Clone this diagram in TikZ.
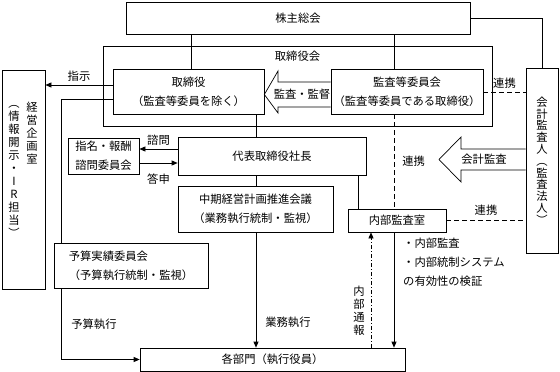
\documentclass[tikz,border=0pt]{standalone}
\usepackage{fontspec}
\setmainfont{Noto Sans CJK JP}
\usetikzlibrary{positioning,arrows.meta}

\begin{document}
\begin{tikzpicture}[x=1pt, y=-1pt,
  every node/.style={font=\fontsize{11.3}{13}\selectfont},
  box/.style={draw, line width=0.7pt, inner sep=0pt, align=center, font=\fontsize{11.3}{19}\selectfont},
  wire/.style={line width=0.7pt},
  arr/.style={-{Triangle[length=6pt,width=5pt]}, line width=0.7pt},
  lnk/.style={line width=0.7pt, dash pattern=on 5pt off 3pt},
  tsuho/.style={dash pattern=on 4pt off 2pt on 1pt off 2pt},
  lab/.style={inner sep=1pt},
  tate/.style={inner sep=0pt, align=center, font=\fontsize{11.3}{13}\selectfont}]

\useasboundingbox (0,0) rectangle (560,372);

% boxes
\node[box, minimum width=344, minimum height=32] (kabu) at (298,18) {株主総会};
\node[box, minimum width=389, minimum height=80] (board) at (297.5,86) {};
\node[lab, below=4pt of board.north] (boardlab) {取締役会};
\node[box, minimum width=151, minimum height=45] (tori) at (188.5,91.5) {取締役\\（監査等委員を除く）};
\node[box, minimum width=152, minimum height=45] (kansa) at (407,91.5) {監査等委員会\\（監査等委員である取締役）};
\node[box, tate, font=\fontsize{11.3}{11.8}\selectfont, minimum width=32, minimum height=185] (kaikei) at (542,160.5)
  {会\\計\\監\\査\\人\\︵\\監\\査\\法\\人\\︶};
\node[box, minimum width=43, minimum height=219] (keiei) at (23.5,179.5) {};
\node[tate, anchor=north] (keieilab) at (32,102) {経\\営\\企\\画\\室};
\node[tate, anchor=north] (keieisub) at (14,105) {︵\\情\\報\\開\\示\\・\\I\\R\\担\\当\\︶};
\node[box, minimum width=71, minimum height=36] (shimei) at (103.5,156) {指名・報酬\\諮問委員会};
\node[box, minimum width=188, minimum height=38] (daihyo) at (272,156) {代表取締役社長};
\node[box, minimum width=155, minimum height=46] (chuki) at (255.5,209) {中期経営計画推進会議\\（業務執行統制・監視）};
\node[box, minimum width=98, minimum height=23] (naibu) at (397,220.5) {内部監査室};
\node[box, minimum width=154, minimum height=45, align=left] (yosan) at (131,265.5) {予算実績委員会\\（予算執行統制・監視）};
\node[box, minimum width=265, minimum height=23] (kakubu) at (272.5,359.5) {各部門（執行役員）};
\node[lab, align=left, anchor=north west, font=\fontsize{11.3}{19}\selectfont] (note) at (402,237)
  {・内部監査\\・内部統制システム\\の有効性の検証};

% connectors
\draw[wire] (kabu.east) -| (kaikei.north);
\draw[wire] (tori.north -| 191,0) -- (kabu.south -| 191,0);
\draw[wire] (kansa.north -| 394,0) -- (kabu.south -| 394,0);
\draw[arr] (tori.west |- 0,85) -- node[lab, above=2pt] (shiji) {指示} (keiei.east |- 0,85);
\draw[wire] (tori.west |- 0,99) -| (yosan.north -| 61,0);
\draw[arr] (yosan.south -| 61,0) |- node[lab, pos=0.25, right=9pt] (shikko) {予算執行} (kakubu.west);
\draw[arr] (daihyo.west |- 0,149) -- node[lab, above=2pt] (shimon) {諮問} (shimei.east |- 0,149);
\draw[arr] (shimei.east |- 0,163) -- node[lab, below=9pt] (toshin) {答申} (daihyo.west |- 0,163);
\draw[wire] (tori.south -| 256,0) -- (daihyo.north -| 256,0);
\draw[wire] (daihyo.south -| 256,0) -- (chuki.north -| 256,0);
\draw[arr] (chuki.south -| 256,0) -- node[lab, pos=0.78, right=8pt] (gyomu) {業務執行} (kakubu.north -| 256,0);
\draw[wire] (daihyo.south -| 358,0) -- (naibu.north -| 358,0);
\draw[lnk] (kansa.south -| 394,0) -- node[lab, right=7pt] (renkei1) {連携} (naibu.north -| 394,0);
\draw[arr] (naibu.south -| 394,0) -- (kakubu.north -| 394,0);
\draw[arr, tsuho] (kakubu.north -| 371,0) -- node[tate, pos=0.32, left=6pt] (tsuhou) {内\\部\\通\\報} (naibu.south -| 371,0);
\draw[lnk] (kansa.east |- 0,92) -- node[lab, above=2pt] (renkei2) {連携} (kaikei.west |- 0,92);
\draw[lnk] (naibu.east |- 0,220) -- node[lab, above=3pt] (renkei3) {連携} (kaikei.west |- 0,220);

% block arrows
\draw[wire] (kansa.west |- 0,82) -- (278,82) -- (278,71) -- (tori.east |- 0,94.5)
  -- (278,113) -- (278,107) -- (kansa.west |- 0,107);
\node[lab] (kansalab) at (302,94.5) {監査・監督};
\draw[wire] (kaikei.west |- 0,149) -- (461,149) -- (461,137) -- (439,159.5)
  -- (461,182) -- (461,170) -- (kaikei.west |- 0,170);
\node[lab] (kansalab2) at (484,159.5) {会計監査};
\end{tikzpicture}
\end{document}
